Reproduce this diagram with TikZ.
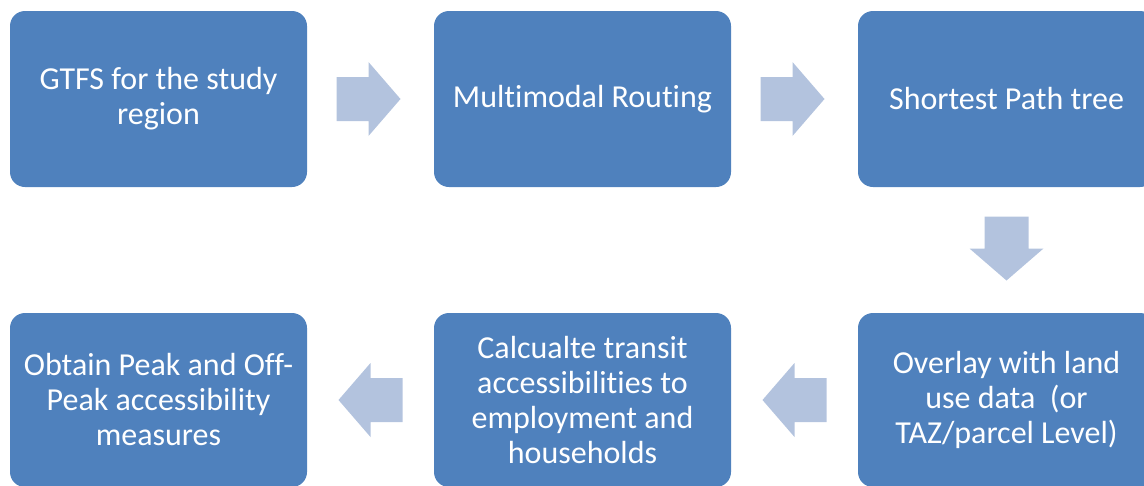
\documentclass[tikz,border=0pt]{standalone}
\usepackage{fontspec}
\setmainfont{Carlito}[Ligatures=NoCommon]
\usetikzlibrary{calc}
\definecolor{boxblue}{HTML}{4F81BD}
\definecolor{arrowblue}{HTML}{B3C3DE}
\tikzset{
  stagebox/.style={fill=boxblue, draw=none, rounded corners=15pt,
    minimum width=297pt, minimum height=176pt, text=white, align=center,
    inner sep=2pt, font=\fontsize{32}{35}\selectfont},
  blockarrow/.pic={
    \fill[arrowblue] (-32pt,-22pt) -- (0pt,-22pt) -- (0pt,-37pt) -- (32pt,0pt)
      -- (0pt,37pt) -- (0pt,22pt) -- (-32pt,22pt) -- cycle;
  }
}
\begin{document}
\begin{tikzpicture}[x=1pt,y=1pt]
  \useasboundingbox (0,0) rectangle (1144,-485);
  % top row
  \node[stagebox] (gtfs)  at (158.5,-99)  {GTFS for the study\\region};
  \node[stagebox] (route) at (582.5,-99)  {Multimodal Routing};
  \node[stagebox] (tree)  at (1006.5,-99) {Shortest Path tree};
  % bottom row
  \node[stagebox, minimum height=174pt] (peak)    at (158.5,-400)  {Obtain Peak and Off-\\Peak accessibility\\measures};
  \node[stagebox, minimum height=174pt] (access)  at (582.5,-400)  {Calcualte transit\\accessibilities to\\employment and\\households};
  \node[stagebox, minimum height=174pt] (overlay) at (1006.5,-400) {Overlay with land\\use data~~(or\\TAZ/parcel Level)};
  % flow arrows
  \pic at ($(gtfs.east)!0.5!(route.west)+(-2,0)$) {blockarrow};
  \pic at ($(route.east)!0.5!(tree.west)+(-2,0)$) {blockarrow};
  \pic[rotate=-90] at ($(tree.south)!0.5!(overlay.north)+(0,1.5)$) {blockarrow};
  \pic[rotate=180] at ($(overlay.west)!0.5!(access.east)$) {blockarrow};
  \pic[rotate=180] at ($(access.west)!0.5!(peak.east)$) {blockarrow};
\end{tikzpicture}
\end{document}
